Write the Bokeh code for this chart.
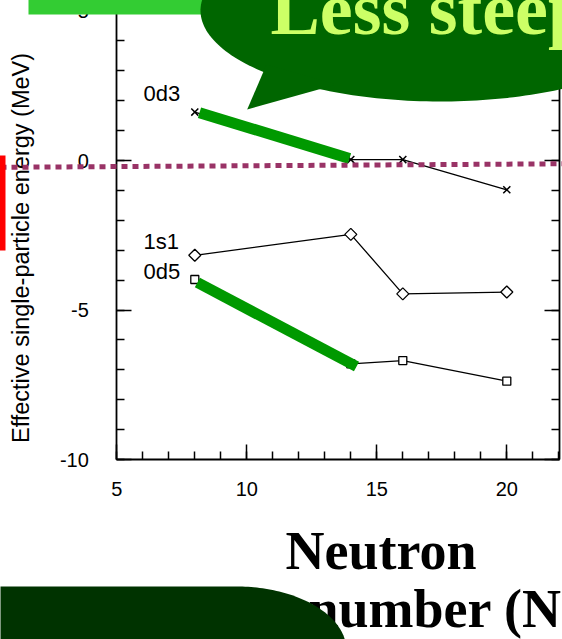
import numpy as np
from bokeh.plotting import figure
from bokeh.models import LinearAxis, Range1d, FixedTicker
from bokeh.core.properties import value
from bokeh.embed import file_html
from bokeh.resources import INLINE

# Effective single-particle energies (MeV) versus neutron number
neutron_number = [8, 14, 16, 20]
esp_0d3 = [1.62, 0.03, 0.03, -0.98]
esp_1s1 = [-3.17, -2.47, -4.46, -4.40]
esp_0d5 = [-3.98, -6.80, -6.69, -7.38]
orbit_names = ["0d3", "1s1", "0d5"]

# thick slope guides over the N = 8 -> 14 segments
guide_0d3_x = [8.18, 13.95]
guide_0d3_y = [1.60, 0.07]
guide_0d5_x = [8.10, 14.22]
guide_0d5_y = [-4.08, -6.89]

x_ticks = [5, 10, 15, 20]
y_ticks = [-10, -5, 0, 5]

W, H = 562, 639

# page layout: N = 5 sits 116.3 px from the left, 26 px per neutron;
# E = 0 sits 160 px from the top, 29.9 px per MeV
X0_PX, X_SCALE = 116.3, 26.0
Y0_PX, Y_SCALE = 160.0, 29.9
# the svg text baseline lands a little low; lift it by this share of the font size
LIFT = 0.37


def px_x(px):
    return 5 + (np.asarray(px, dtype=float) - X0_PX) / X_SCALE


def px_y(py):
    return (Y0_PX - np.asarray(py, dtype=float)) / Y_SCALE


x_right = float(px_x(559))
y_top = float(px_y(0))

p = figure(width=W, height=H,
           x_range=Range1d(float(px_x(0)), float(px_x(W))),
           y_range=Range1d(float(px_y(H)), y_top),
           x_axis_location=None, y_axis_location=None,
           toolbar_location=None, output_backend="svg",
           min_border=0, outline_line_color=None)
p.grid.visible = False

SANS = "Liberation Sans"
SERIF = "Liberation Serif"

# frame axes: ticks point inwards, labels outside
left = LinearAxis(fixed_location=5, bounds=(-10, y_top),
                  ticker=FixedTicker(ticks=y_ticks, minor_ticks=list(range(-10, 6))),
                  major_label_overrides={t: str(t) for t in y_ticks})
bottom = LinearAxis(fixed_location=-10, bounds=(5, x_right),
                    ticker=FixedTicker(ticks=x_ticks, minor_ticks=list(range(5, 23))))
right = LinearAxis(fixed_location=x_right, bounds=(-10, y_top),
                   ticker=FixedTicker(ticks=y_ticks, minor_ticks=list(range(-10, 6))),
                   major_label_overrides={t: "" for t in y_ticks})
for ax in (left, bottom, right):
    ax.axis_line_width = 1.8
    ax.axis_line_color = "black"
    ax.major_tick_in = 15
    ax.major_tick_out = 0
    ax.minor_tick_in = 8
    ax.minor_tick_out = 0
    ax.major_tick_line_width = 1.5
    ax.minor_tick_line_width = 1.5
    ax.major_tick_line_color = "black"
    ax.minor_tick_line_color = "black"
    ax.major_label_text_font = SANS
    ax.major_label_text_font_size = "20px"
    ax.major_label_text_color = "black"
left.major_label_standoff = 28
bottom.major_label_standoff = 22
p.add_layout(left, "left")
p.add_layout(bottom, "below")
p.add_layout(right, "right")

# y-axis title (rotated, so its baseline correction is horizontal)
title_size = 23.5
p.text(x=[float(px_x(29 - LIFT * title_size))], y=[float(px_y(247.5))],
       text=["Effective single-particle energy (MeV)"], angle=np.pi / 2,
       text_font=value(SANS), text_font_size=f"{title_size}px", text_color="black",
       text_align="center", text_baseline="alphabetic")

# orbit series
line_kw = dict(line_color="black", line_width=1.3)
p.line(neutron_number, esp_0d3, **line_kw)
p.scatter(neutron_number, esp_0d3, marker="x", size=10, line_color="black", line_width=1.5)
p.line(neutron_number, esp_1s1, **line_kw)
p.scatter(neutron_number, esp_1s1, marker="square", angle=np.pi / 4, size=8.5,
          fill_color="white", line_color="black", line_width=1.3)
p.line(neutron_number, esp_0d5, **line_kw)
p.scatter(neutron_number, esp_0d5, marker="square", size=8,
          fill_color="white", line_color="black", line_width=1.3)

# orbit names beside the N = 8 points
name_size = 22
p.text(x=[float(px_x(143))] * 3,
       y=list(px_y(np.array([101, 249.3, 279.3]) - LIFT * name_size)),
       text=orbit_names, text_font=value(SANS), text_font_size=f"{name_size}px",
       text_color="black", text_align="left", text_baseline="alphabetic")

# slope guides
guide_kw = dict(line_color="#009900", line_width=11, line_cap="butt")
p.line(guide_0d3_x, guide_0d3_y, **guide_kw)
p.line(guide_0d5_x, guide_0d5_y, **guide_kw)

# dotted zero-energy threshold
p.line(list(px_x([0, 562])), list(px_y([166.8, 163.3])), line_color="#993366",
       line_width=5, line_dash="6 5", level="overlay")

# red marker bar at the left edge
p.quad(left=[float(px_x(-5))], right=[float(px_x(5))], top=[float(px_y(155))],
       bottom=[float(px_y(250))], fill_color="#FF0000", line_color=None, level="overlay")

# green banner at the top
p.quad(left=[float(px_x(28))], right=[float(px_x(255))], top=[float(px_y(-30))],
       bottom=[float(px_y(14))], fill_color="#33CC33", line_color=None, level="overlay")

# speech bubble
t = np.linspace(0, 2 * np.pi, 240)
cx, cy, a, b = 440, 10, 240, 91
p.patch(list(px_x(cx + a * np.cos(t))), list(px_y(cy + b * np.sin(t))),
        fill_color="#006600", line_color=None, level="overlay")
p.patch(list(px_x([266, 246.7, 336])), list(px_y([64, 109, 84])),
        fill_color="#006600", line_color=None, level="overlay")
bubble_size = 74
p.text(x=[float(px_x(270))], y=[float(px_y(36 - LIFT * bubble_size))], text=["Less steep"],
       text_font=value(SERIF), text_font_style="bold", text_font_size=f"{bubble_size}px",
       text_color="#CCFF66", text_align="left", text_baseline="alphabetic",
       level="overlay")

# x-axis title
xt_size = 54
p.text(x=list(px_x([285, 308])), y=list(px_y(np.array([570, 628]) - LIFT * xt_size)),
       text=["Neutron", "number (N)"], text_font=value(SERIF),
       text_font_style="bold", text_font_size=f"{xt_size}px", text_color="black",
       text_align="left", text_baseline="alphabetic", level="overlay")

# dark panel at the lower left
th = np.linspace(0, np.pi / 2, 60)
sx = [0, 236] + list(236 + 110 * np.sin(th)) + [346, 0]
sy = [586, 586] + list(650 - 64 * np.cos(th)) + [700, 700]
p.patch(list(px_x(sx)), list(px_y(sy)), fill_color="#003300", line_color=None,
        level="overlay")

open("out.html", "w").write(file_html(p, INLINE))
